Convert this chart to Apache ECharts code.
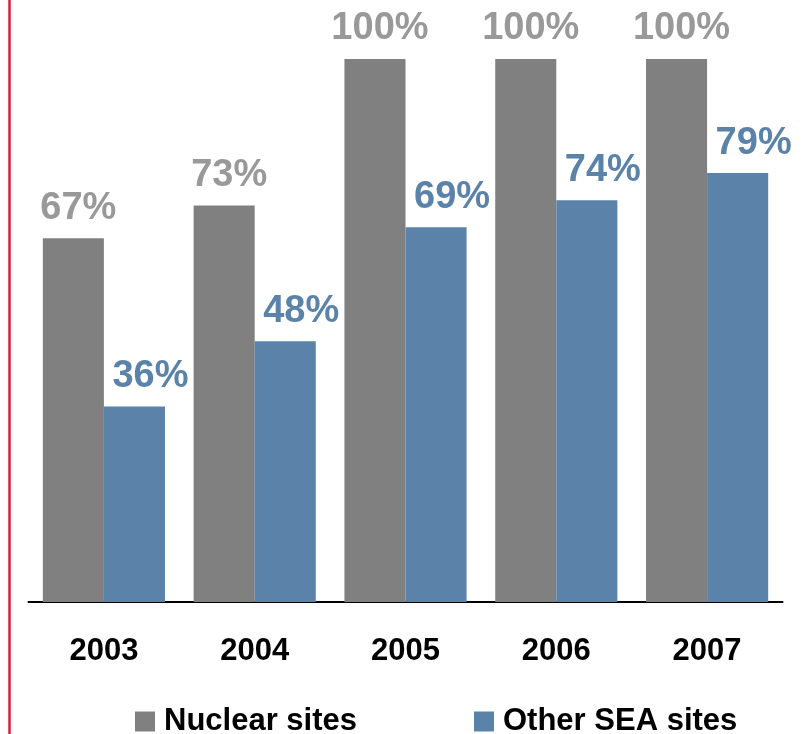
<!DOCTYPE html>
<html>
<head>
<meta charset="utf-8">
<script src="https://cdn.jsdelivr.net/npm/echarts@6/dist/echarts.min.js"></script>
<style>
  html, body { margin: 0; padding: 0; background: #ffffff; }
  #chart { width: 809px; height: 734px; }
</style>
</head>
<body>
<div id="chart"></div>
<script>
// Share of sites covered each year
const years = ['2003', '2004', '2005', '2006', '2007'];
const nuclearSites = [67, 73, 100, 100, 100];
const otherSeaSites = [36, 48, 69, 74, 79];
const seriesNames = ['Nuclear sites', 'Other SEA sites'];

const FONT = 'Liberation Sans, Arial, sans-serif';
const GRAY = '#808080';
const BLUE = '#5b83aa';

const chart = echarts.init(document.getElementById('chart'), null, { renderer: 'canvas' });

function valueLabel(color, dx) {
  return {
    show: true,
    position: 'top',
    distance: 11,
    offset: [dx, 0],
    formatter: p => p.value + '%',
    color: color,
    fontFamily: FONT,
    fontWeight: 'bold',
    fontSize: 38
  };
}

chart.setOption({
  animation: false,
  backgroundColor: '#ffffff',
  grid: { left: 28.5, right: 26.5, top: 59, bottom: 132, containLabel: false },
  legend: {
    left: 135,
    top: 706,
    padding: 0,
    itemWidth: 20,
    itemHeight: 20,
    itemGap: 117,
    icon: 'rect',
    textStyle: {
      color: '#000000',
      fontFamily: FONT,
      fontWeight: 'bold',
      fontSize: 31,
      padding: [0, 0, 0, 4]
    },
    data: seriesNames
  },
  xAxis: {
    type: 'category',
    data: years,
    axisLine: { show: true, lineStyle: { color: '#000000', width: 2 } },
    axisTick: { show: false },
    axisLabel: {
      color: '#000000',
      fontFamily: FONT,
      fontWeight: 'bold',
      fontSize: 31,
      margin: 34
    },
    splitLine: { show: false }
  },
  yAxis: {
    type: 'value',
    min: 0,
    max: 100,
    show: false
  },
  series: [
    {
      name: seriesNames[0],
      type: 'bar',
      data: nuclearSites,
      barGap: '0%',
      barCategoryGap: '19%',
      itemStyle: { color: GRAY },
      label: valueLabel('#999999', 5)
    },
    {
      name: seriesNames[1],
      type: 'bar',
      data: otherSeaSites,
      barGap: '0%',
      barCategoryGap: '19%',
      itemStyle: { color: BLUE },
      label: valueLabel(BLUE, 16)
    }
  ],
  graphic: [
    {
      type: 'line',
      shape: { x1: 9.5, y1: 0, x2: 9.5, y2: 734 },
      style: { stroke: '#d2213f', lineWidth: 2.5 },
      z: 10
    }
  ]
});
</script>
</body>
</html>
